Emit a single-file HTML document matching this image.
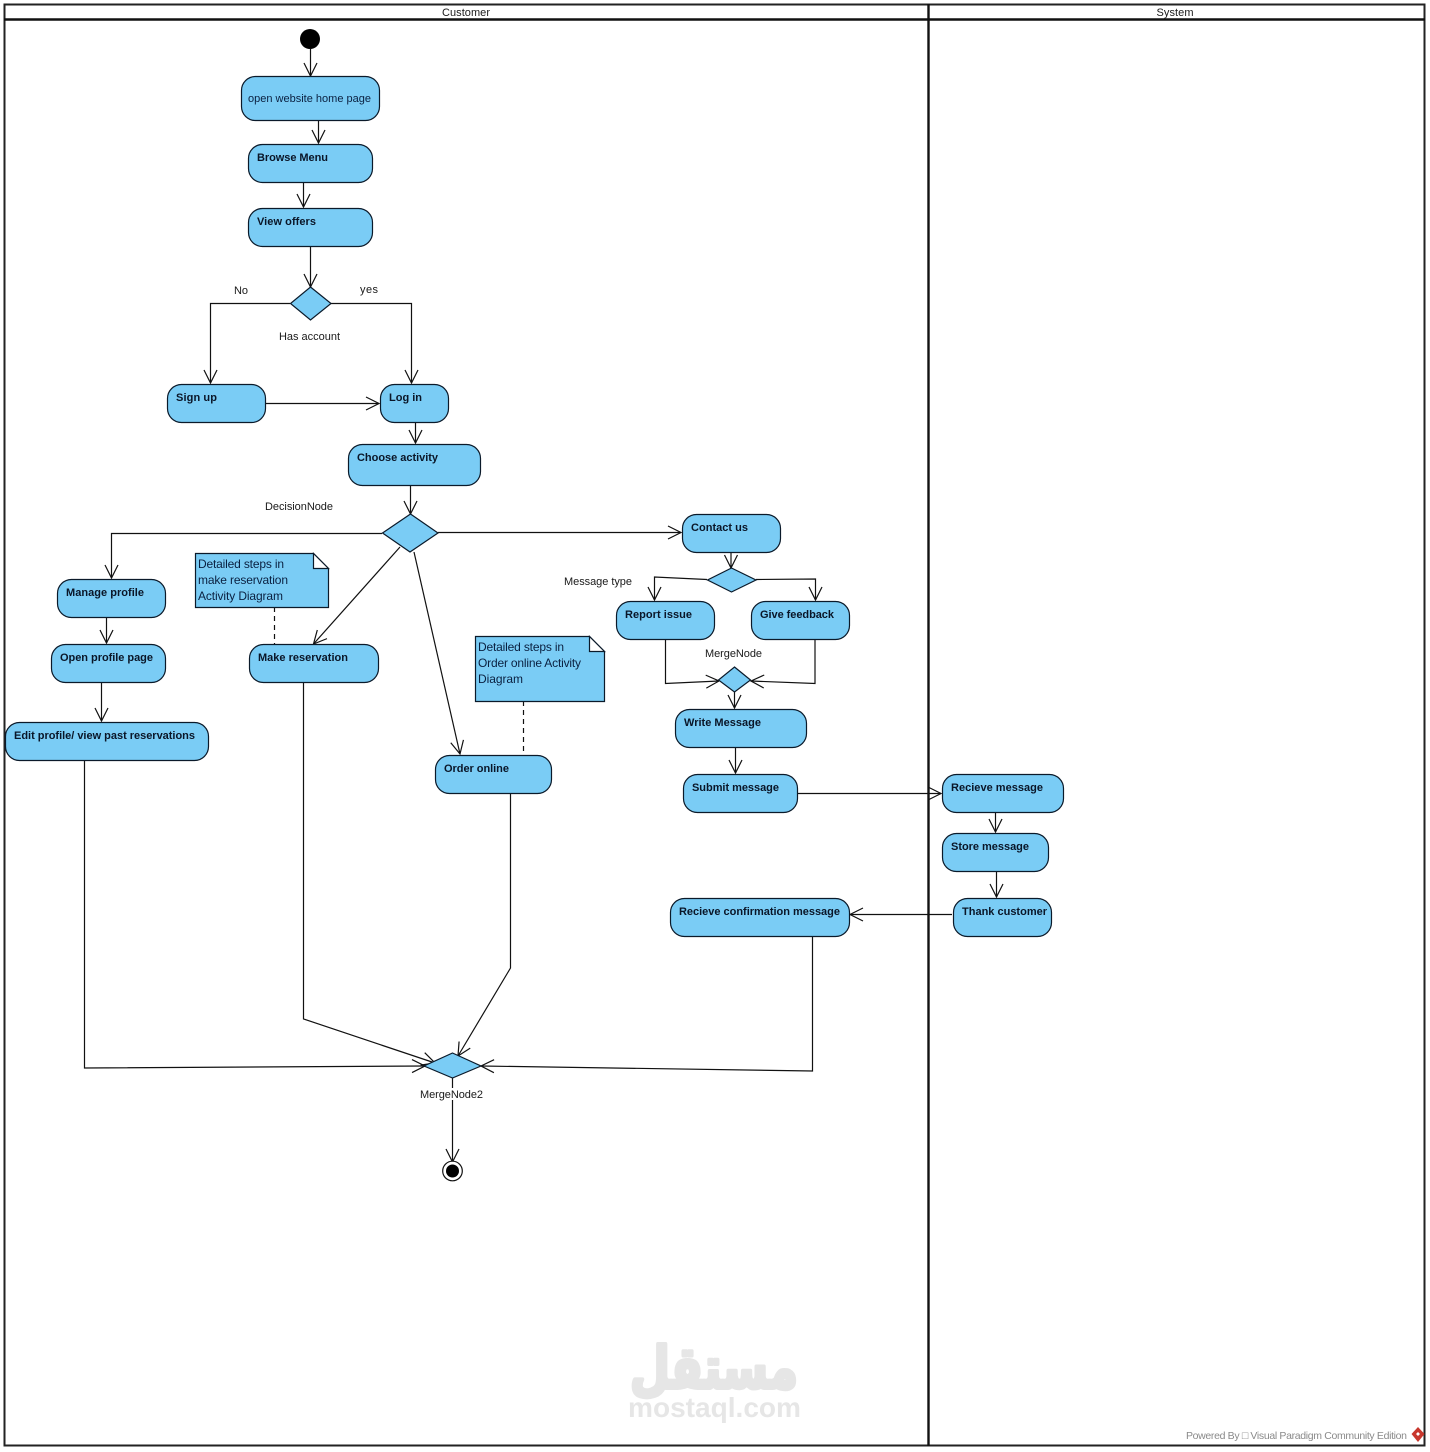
<!DOCTYPE html>
<html><head><meta charset="utf-8"><style>
html,body{margin:0;padding:0;background:#fff;width:1430px;height:1452px;overflow:hidden}
svg{display:block}
.n{fill:#7accf5;stroke:#0b1a2a;stroke-width:1.2}
.c{fill:none;stroke:#111;stroke-width:1.2;marker-end:url(#a)}
.d{fill:none;stroke:#111;stroke-width:1.2;stroke-dasharray:5 4}
.b{font:bold 11px "Liberation Sans",sans-serif;fill:#0a1628}
.t{font:11px "Liberation Sans",sans-serif;fill:#1a1a1a}
.nt{font:12px "Liberation Sans",sans-serif;fill:#0a2040}
</style></head><body>
<svg width="1430" height="1452" viewBox="0 0 1430 1452" xmlns="http://www.w3.org/2000/svg">
<defs><marker id="a" markerUnits="userSpaceOnUse" markerWidth="18" markerHeight="18" refX="14" refY="8" orient="auto" overflow="visible"><path d="M1,1.5 L14,8 L1,14.5" fill="none" stroke="#111" stroke-width="1.2"/></marker></defs>

<!-- watermark -->
<text x="714" y="1388" text-anchor="middle" font-family="'DejaVu Sans','Noto Sans CJK SC',sans-serif" font-weight="bold" font-size="58" fill="#e6e6e6" stroke="#e6e6e6" stroke-width="4" stroke-linejoin="round" textLength="168" lengthAdjust="spacingAndGlyphs">مستقل</text>
<text x="628" y="1417" font-family="'Liberation Sans',sans-serif" font-weight="bold" font-size="28" fill="#e6e6e6" textLength="173" lengthAdjust="spacingAndGlyphs">mostaql.com</text>

<!-- swimlanes -->
<rect x="4.5" y="4.5" width="1420" height="1441" fill="none" stroke="#222" stroke-width="2"/>
<line x1="4" y1="19.5" x2="1425" y2="19.5" stroke="#111" stroke-width="2.4"/>
<line x1="928.5" y1="4" x2="928.5" y2="1446" stroke="#111" stroke-width="2.4"/>
<text class="t" x="466" y="16" text-anchor="middle" textLength="48">Customer</text>
<text class="t" x="1175" y="16" text-anchor="middle" textLength="37">System</text>

<!-- connectors -->
<path class="c" d="M310.5,49V76"/>
<path class="c" d="M318.5,120V143"/>
<path class="c" d="M303.5,183V207"/>
<path class="c" d="M310.5,247V287"/>
<path class="c" d="M290,303.5H210.5V383"/>
<path class="c" d="M331,303.5H411.5V383"/>
<path class="c" d="M266,403.5H379"/>
<path class="c" d="M415.5,423V443"/>
<path class="c" d="M410.5,486V514"/>
<path class="c" d="M382,533.5H111.5V578"/>
<path class="c" d="M438,532.5H681"/>
<path class="c" d="M400,547L313.5,644"/>
<path class="c" d="M414,552L460,754"/>
<path class="c" d="M731,552V568"/>
<path class="c" d="M707,579.5L654.5,577V600"/>
<path class="c" d="M756,579.5L815.5,579V600"/>
<path class="c" d="M665.5,640V683.5L719,681"/>
<path class="c" d="M815,640V683.5L751,681"/>
<path class="c" d="M734.5,692V708"/>
<path class="c" d="M735.5,748V773"/>
<path class="c" d="M798,793.5H941"/>
<path class="c" d="M995.5,813V832"/>
<path class="c" d="M996.5,872V897"/>
<path class="c" d="M952,914.5H850"/>
<path class="c" d="M106.5,618V643"/>
<path class="c" d="M101.5,683V721"/>
<path class="c" d="M84.5,761V1068L425,1066"/>
<path class="c" d="M303.5,683V1019L435,1063"/>
<path class="c" d="M510.5,794V968L458,1056"/>
<path class="c" d="M812.5,937V1071L481,1066"/>
<path class="c" d="M452.5,1078V1162"/>
<path class="d" d="M274.5,607V644"/>
<path class="d" d="M523.5,701V755"/>

<!-- start/end -->
<circle cx="310" cy="39" r="10" fill="#000"/>
<circle cx="452.5" cy="1171" r="9.8" fill="#fff" stroke="#111" stroke-width="1.2"/>
<circle cx="452.5" cy="1171" r="6.5" fill="#000"/>

<!-- nodes -->
<rect class="n" x="241.5" y="76.5" width="138" height="44" rx="14"/>
<rect class="n" x="248.5" y="144.5" width="124" height="38" rx="14"/>
<rect class="n" x="248.5" y="208.5" width="124" height="38" rx="14"/>
<rect class="n" x="167.5" y="384.5" width="98" height="38" rx="14"/>
<rect class="n" x="380.5" y="384.5" width="68" height="38" rx="14"/>
<rect class="n" x="348.5" y="444.5" width="132" height="41" rx="14"/>
<rect class="n" x="682.5" y="514.5" width="98" height="38" rx="14"/>
<rect class="n" x="616.5" y="601.5" width="98" height="38" rx="14"/>
<rect class="n" x="751.5" y="601.5" width="98" height="38" rx="14"/>
<rect class="n" x="675.5" y="709.5" width="131" height="38" rx="14"/>
<rect class="n" x="683.5" y="774.5" width="114" height="38" rx="14"/>
<rect class="n" x="942.5" y="774.5" width="121" height="38" rx="14"/>
<rect class="n" x="942.5" y="833.5" width="106" height="38" rx="14"/>
<rect class="n" x="953.5" y="898.5" width="98" height="38" rx="14"/>
<rect class="n" x="670.5" y="898.5" width="179" height="38" rx="14"/>
<rect class="n" x="57.5" y="579.5" width="108" height="38" rx="14"/>
<rect class="n" x="51.5" y="644.5" width="114" height="38" rx="14"/>
<rect class="n" x="5.5" y="722.5" width="203" height="38" rx="14"/>
<rect class="n" x="249.5" y="644.5" width="129" height="38" rx="14"/>
<rect class="n" x="435.5" y="755.5" width="116" height="38" rx="14"/>

<!-- diamonds -->
<polygon class="n" points="310.5,287 331,303.5 310.5,320 290.5,303.5"/>
<polygon class="n" points="410.5,514 438,533 410,552 382.5,533"/>
<polygon class="n" points="731.5,568 756,580 731.5,592 707.5,580"/>
<polygon class="n" points="734.5,667 750.5,680 734.5,692 718.5,680"/>
<polygon class="n" points="452.5,1053 481,1066 452.5,1078 424,1066"/>

<!-- notes -->
<path class="n" d="M195.5,553.5H313.5L328.5,568.5V607.5H195.5Z"/>
<path class="n" d="M313.5,553.5V568.5H328.5Z" style="fill:#fff"/>
<path class="n" d="M475.5,636.5H589.5L604.5,651.5V701.5H475.5Z"/>
<path class="n" d="M589.5,636.5V651.5H604.5Z" style="fill:#fff"/>

<!-- node labels -->
<text class="t" x="248" y="102" textLength="123" style="fill:#0a2040">open website home page</text>
<text class="b" x="257" y="161" textLength="71">Browse Menu</text>
<text class="b" x="257" y="225" textLength="59">View offers</text>
<text class="b" x="176" y="401" textLength="41">Sign up</text>
<text class="b" x="389" y="401" textLength="33">Log in</text>
<text class="b" x="357" y="461" textLength="81">Choose activity</text>
<text class="b" x="691" y="531" textLength="57">Contact us</text>
<text class="b" x="625" y="618" textLength="67">Report issue</text>
<text class="b" x="760" y="618" textLength="74">Give feedback</text>
<text class="b" x="684" y="726" textLength="77">Write Message</text>
<text class="b" x="692" y="791" textLength="87">Submit message</text>
<text class="b" x="951" y="791" textLength="92">Recieve message</text>
<text class="b" x="951" y="850" textLength="78">Store message</text>
<text class="b" x="962" y="915" textLength="85">Thank customer</text>
<text class="b" x="679" y="915" textLength="161">Recieve confirmation message</text>
<text class="b" x="66" y="596" textLength="78">Manage profile</text>
<text class="b" x="60" y="661" textLength="93">Open profile page</text>
<text class="b" x="14" y="739" textLength="181">Edit profile/ view past reservations</text>
<text class="b" x="258" y="661" textLength="90">Make reservation</text>
<text class="b" x="444" y="772" textLength="65">Order online</text>

<!-- note text -->
<text class="nt" x="198" y="568" textLength="86">Detailed steps in</text>
<text class="nt" x="198" y="584" textLength="90">make reservation</text>
<text class="nt" x="198" y="600" textLength="85">Activity Diagram</text>
<text class="nt" x="478" y="651" textLength="86">Detailed steps in</text>
<text class="nt" x="478" y="667" textLength="103">Order online Activity</text>
<text class="nt" x="478" y="683" textLength="45">Diagram</text>

<!-- free labels -->
<text class="t" x="234" y="294" textLength="14">No</text>
<text class="t" x="360" y="293" textLength="18">yes</text>
<text class="t" x="279" y="340" textLength="61">Has account</text>
<text class="t" x="265" y="510" textLength="68">DecisionNode</text>
<text class="t" x="564" y="585" textLength="68">Message type</text>
<text class="t" x="705" y="657" textLength="57">MergeNode</text>
<rect x="420" y="1088" width="63" height="12" fill="#fff"/>
<text class="t" x="420" y="1098" textLength="63">MergeNode2</text>

<!-- footer -->
<text x="1186" y="1439" font-family="'Liberation Sans',sans-serif" font-size="10.5" fill="#8a8a8a" textLength="221">Powered By □ Visual Paradigm Community Edition</text>
<polygon points="1418,1427 1424.5,1434 1418,1442 1411.5,1434" fill="#c8372d"/>
<polygon points="1418,1432 1420,1434 1418,1436 1416,1434" fill="#fff"/>
</svg>
</body></html>
